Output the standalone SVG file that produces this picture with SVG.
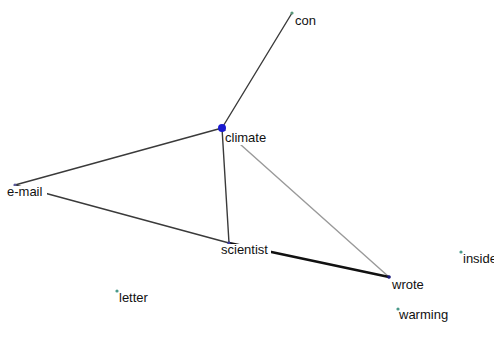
<svg xmlns="http://www.w3.org/2000/svg" width="494" height="349" viewBox="0 0 494 349">
  <style>
    .edge { fill: none; stroke-linecap: round; }
    .dark { stroke: #3a3a3a; stroke-width: 1.4; }
    .light { stroke: #9a9a9a; stroke-width: 1.4; }
    .heavy { stroke: #111; stroke-width: 2.6; }
    .lbl { font-family: "Liberation Sans", Arial, sans-serif; font-size: 13px; fill: #111; }
    .bg { fill: #fff; }
    .dot { stroke: none; }
  </style>
  <rect width="494" height="349" fill="#fff"/>
  <g id="connectors">
    <line class="edge dark" x1="292" y1="13" x2="222" y2="128"/>
    <line class="edge dark" x1="222" y1="128" x2="15" y2="185"/>
    <line class="edge dark" x1="15" y1="185" x2="229" y2="243"/>
    <line class="edge dark" x1="222" y1="128" x2="229" y2="243"/>
    <line class="edge light" x1="222" y1="128" x2="389" y2="277"/>
    <line class="edge heavy" x1="229" y1="243" x2="389" y2="277"/>
  </g>
  <g id="node-con">
    <circle class="dot" cx="292" cy="13" r="1.6" fill="#5a9a7a"/>
    <rect class="bg" x="294" y="14" width="24" height="14"/>
    <text class="lbl" x="295" y="25">con</text>
  </g>
  <g id="node-climate">
    <rect class="bg" x="224" y="131" width="45" height="14"/>
    <circle class="dot" cx="222" cy="128" r="4" fill="#1a1ad0"/>
    <text class="lbl" x="225" y="142">climate</text>
  </g>
  <g id="node-e-mail">
    <circle class="dot" cx="15" cy="185" r="1.6" fill="#5a5a9a"/>
    <rect class="bg" x="7" y="186" width="40" height="13"/>
    <text class="lbl" x="7" y="196">e-mail</text>
  </g>
  <g id="node-scientist">
    <circle class="dot" cx="229" cy="243" r="1.6" fill="#3a3aa0"/>
    <rect class="bg" x="220" y="244" width="51" height="13"/>
    <text class="lbl" x="221" y="254">scientist</text>
  </g>
  <g id="node-wrote">
    <circle class="dot" cx="389" cy="277" r="1.8" fill="#1a1a80"/>
    <rect class="bg" x="391" y="278" width="35" height="14"/>
    <text class="lbl" x="392" y="289">wrote</text>
  </g>
  <g id="node-inside">
    <circle class="dot" cx="461" cy="252" r="1.6" fill="#4a9a8a"/>
    <text class="lbl" x="463" y="263">inside</text>
  </g>
  <g id="node-letter">
    <circle class="dot" cx="117" cy="291" r="1.6" fill="#4a9a8a"/>
    <text class="lbl" x="119" y="302">letter</text>
  </g>
  <g id="node-warming">
    <circle class="dot" cx="398" cy="309" r="1.6" fill="#4a9a8a"/>
    <text class="lbl" x="399" y="319">warming</text>
  </g>
</svg>
